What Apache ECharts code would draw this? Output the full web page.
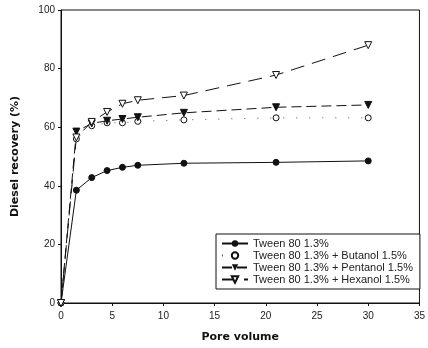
<!DOCTYPE html>
<html><head><meta charset="utf-8">
<script src="https://cdn.jsdelivr.net/npm/echarts@6/dist/echarts.min.js"></script>
<style>html,body{margin:0;padding:0;background:#fff}#c{width:428px;height:348px}</style>
</head><body><div id="c"></div>
<script>
const poreVolume = [0, 1.5, 3, 4.5, 6, 7.5, 12, 21, 30];
const tween = [0, 38.5, 42.8, 45.2, 46.3, 47, 47.7, 48, 48.5];
const butanol = [0, 56, 60.5, 61.5, 61.5, 62, 62.5, 63.2, 63.2];
const pentanol = [0, 58.5, 61.3, 62.2, 62.8, 63.4, 64.9, 66.8, 67.6];
const hexanol = [0, 56.5, 61.8, 65.2, 68, 69.2, 70.8, 77.8, 88];
const names = ['Tween 80 1.3%', 'Tween 80 1.3% + Butanol 1.5%', 'Tween 80 1.3% + Pentanol 1.5%', 'Tween 80 1.3% + Hexanol 1.5%'];
const xTicks = [0, 5, 10, 15, 20, 25, 30, 35];
const yTicks = [0, 20, 40, 60, 80, 100];

const ink = '#111';
function pts(v){ return poreVolume.map((x,i)=>[x, v[i]]); }
const chart = echarts.init(document.getElementById('c'), null, {renderer:'canvas'});
chart.setOption({
  animation:false,
  backgroundColor:'#fff',
  grid:{left:61, right:2, top:10, bottom:45, show:true, borderColor:ink, borderWidth:1, backgroundColor:'transparent'},
  xAxis:{type:'value', min:xTicks[0], max:xTicks[xTicks.length-1], interval:5,
    name:'Pore volume', nameLocation:'middle', nameGap:29,
    nameTextStyle:{fontFamily:'DejaVu Sans', fontWeight:'bold', fontSize:11, color:ink},
    axisLine:{lineStyle:{color:ink, width:1}}, axisTick:{inside:false, length:3, lineStyle:{color:ink}},
    axisLabel:{fontFamily:'Liberation Sans', fontSize:10, color:'#222', margin:8}, splitLine:{show:false}},
  yAxis:{type:'value', min:yTicks[0], max:yTicks[yTicks.length-1], interval:20,
    name:'Diesel recovery (%)', nameLocation:'middle', nameGap:40,
    nameTextStyle:{fontFamily:'DejaVu Sans', fontWeight:'bold', fontSize:11, color:ink},
    axisLine:{lineStyle:{color:ink, width:1}}, axisTick:{length:3, lineStyle:{color:ink}},
    axisLabel:{fontFamily:'Liberation Sans', fontSize:10, color:'#222', margin:6}, splitLine:{show:false}},
  legend:{orient:'vertical', left:216, top:234, itemGap:1, itemWidth:26, itemHeight:8,
    padding:[4,7,4,5], borderColor:ink, borderWidth:1, backgroundColor:'#fff',
    textStyle:{fontFamily:'Liberation Sans', fontSize:11, color:'#222'},
    data:names},
  series:[
    {name:names[0], type:'line', data:pts(tween), symbol:'circle', symbolSize:6,
      lineStyle:{color:ink, width:1}, itemStyle:{color:ink, borderColor:ink}},
    {name:names[1], type:'line', data:pts(butanol), symbol:'circle', symbolSize:6,
      lineStyle:{color:'#555', width:1, type:[1,12]}, itemStyle:{color:'#fff', borderColor:ink, borderWidth:1}},
    {name:names[2], type:'line', data:pts(pentanol), symbol:'triangle', symbolRotate:180, symbolSize:7,
      lineStyle:{color:ink, width:1, type:[10,5]}, itemStyle:{color:ink, borderColor:ink}},
    {name:names[3], type:'line', data:pts(hexanol), symbol:'triangle', symbolRotate:180, symbolSize:7,
      lineStyle:{color:ink, width:1, type:[14,8]}, itemStyle:{color:'#fff', borderColor:ink, borderWidth:1}}
  ]
});
</script></body></html>
